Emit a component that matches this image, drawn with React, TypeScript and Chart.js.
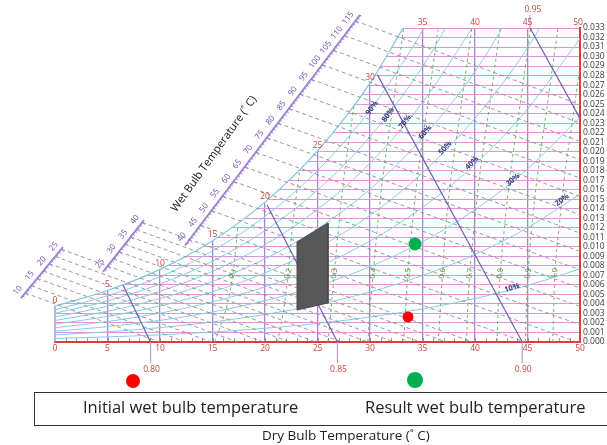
import React, { useEffect, useRef } from "react";
import { Chart, registerables } from "chart.js";

Chart.register(...registerables);

// ---------------- data ----------------
const dryBulbTemps = [0, 5, 10, 15, 20, 25, 30, 35, 40, 45, 50];
const humidityTicks = [
  0.0, 0.001, 0.002, 0.003, 0.004, 0.005, 0.006, 0.007, 0.008, 0.009, 0.01, 0.011,
  0.012, 0.013, 0.014, 0.015, 0.016, 0.017, 0.018, 0.019, 0.02, 0.021, 0.022, 0.023,
  0.024, 0.025, 0.026, 0.027, 0.028, 0.029, 0.03, 0.031, 0.032, 0.033,
];

// humidity ratio (kg/kg) along each relative-humidity curve, at dryBulbTemps
const saturationW = [0.00377, 0.00541, 0.00763, 0.01065, 0.0147, 0.02009, 0.02721, 0.03659];
const rh90W = [0.00339, 0.00486, 0.00686, 0.00957, 0.0132, 0.01802, 0.02438, 0.03274, 0.04366];
const rh80W = [0.00302, 0.00432, 0.00609, 0.00849, 0.0117, 0.01597, 0.02158, 0.02893, 0.03851];
const rh70W = [0.00264, 0.00377, 0.00532, 0.00742, 0.01022, 0.01393, 0.0188, 0.02517, 0.03344];
const rh60W = [0.00226, 0.00323, 0.00456, 0.00635, 0.00874, 0.0119, 0.01605, 0.02145, 0.02844, 0.03747];
const rh50W = [0.00188, 0.00269, 0.00379, 0.00528, 0.00726, 0.00988, 0.01332, 0.01777, 0.02352, 0.03091, 0.04037];
const rh40W = [0.0015, 0.00215, 0.00303, 0.00422, 0.0058, 0.00788, 0.01061, 0.01414, 0.01868, 0.02449, 0.03188];
const rh30W = [0.00113, 0.00161, 0.00227, 0.00316, 0.00434, 0.00589, 0.00792, 0.01054, 0.0139, 0.01819, 0.02361];
const rh20W = [0.00075, 0.00107, 0.00151, 0.0021, 0.00289, 0.00392, 0.00526, 0.00699, 0.0092, 0.01201, 0.01554];
const rh10W = [0.00038, 0.00054, 0.00075, 0.00105, 0.00144, 0.00195, 0.00262, 0.00348, 0.00457, 0.00595, 0.00768];
const rhCurves = [rh10W, rh20W, rh30W, rh40W, rh50W, rh60W, rh70W, rh80W, rh90W];

const rhLabels = ["10%", "20%", "30%", "40%", "50%", "60%", "70%", "80%", "90%"];
const rhLabelT = [43.52, 48.29, 43.62, 39.71, 37.14, 35.24, 33.33, 31.71, 30.19];
const rhLabelW = [0.00568, 0.01492, 0.01703, 0.01881, 0.02039, 0.02207, 0.02312, 0.02386, 0.02459];
const rhLabelAngle = [-17, -37, -41, -45, -48, -50, -52, -54, -55];

// enthalpy (kJ/kg) lines, grouped by the three slanted scales
const enthalpyLinesA = [10, 12.5, 15, 17.5, 20, 22.5, 25];
const enthalpyLinesB = [27.5, 30, 32.5, 35, 37.5, 40];
const enthalpyLinesC = [45, 50, 55, 60, 65, 70, 75, 80, 85, 90, 95, 100, 105, 110, 115];
const enthalpyLabelsA = [10, 15, 20, 25];
const enthalpyLabelsB = [25, 30, 35, 40];
const enthalpyLabelsC = [40, 45, 50, 55, 60, 65, 70, 75, 80, 85, 90, 95, 100, 105, 110, 115];

// green dashed curves 0.1 ... 1.0
const shrLabels = ["0.1", "0.2", "0.3", "0.4", "0.5", "0.6", "0.7", "0.8", "0.9", "1.0"];
const shrCurveW = [0, 0.0035, 0.0072, 0.012, 0.018, 0.025, 0.033];
const shrCurveT = [
  [15.2, 16.3, 16.95, 17.4],
  [21.2, 21.8, 22.2, 22.6, 23.3],
  [26.0, 26.3, 26.6, 27.0, 27.6, 28.5],
  [29.8, 30.0, 30.3, 30.7, 31.3, 32.2, 33.2],
  [33.2, 33.4, 33.6, 34.0, 34.6, 35.5, 36.5],
  [36.5, 36.7, 36.9, 37.2, 37.8, 38.7, 39.7],
  [39.2, 39.3, 39.5, 39.9, 40.5, 41.4, 42.4],
  [42.1, 42.2, 42.4, 42.8, 43.4, 44.3, 45.3],
  [44.8, 44.9, 45.05, 45.4, 46.0, 46.9, 47.9],
  [47.4, 47.5, 47.6, 48.0, 48.6, 49.5, 50.5],
];
const shrLabelAngle = [-62, -74, -82, -82, -82, -82, -82, -82, -82, -82];

// specific volume lines (m3/kg)
const volumeLabels = ["0.80", "0.85", "0.90", "0.95"];
const volumeTopT = [6.48, 20.2, 30.7, 45.24];
const volumeTopW = [0.006, 0.0144, 0.0281, 0.033];
const volumeEndT = [9.1, 26.9, 44.5, 50];
const volumeEndW = [0, 0, 0, 0.0235];

// process zone and the two states
const processZoneT = [23.05, 26.0, 26.0, 23.05, 23.05];
const processZoneW = [0.01051, 0.01251, 0.0041, 0.00336, 0.01051];
const initialState = { x: 33.62, y: 0.00263 };
const resultState = { x: 34.29, y: 0.0103 };

// ---------------- geometry helpers ----------------
const rulers = [
  { from: { x: -3.24, y: 0.00462 }, to: { x: 0.76, y: 0.00998 }, lines: enthalpyLinesA, labels: enthalpyLabelsA },
  { from: { x: 4.57, y: 0.00736 }, to: { x: 8.48, y: 0.01282 }, lines: enthalpyLinesB, labels: enthalpyLabelsB },
  { from: { x: 12.38, y: 0.01014 }, to: { x: 29.05, y: 0.03437 }, lines: enthalpyLinesC, labels: enthalpyLabelsC },
];
const hAt = (t: number, w: number) => 1.006 * t + w * (2501 + 1.86 * t);
const onRuler = (r: any, h: number) => {
  const h0 = hAt(r.from.x, r.from.y);
  const h1 = hAt(r.to.x, r.to.y);
  const s = (h - h0) / (h1 - h0);
  return { x: r.from.x + s * (r.to.x - r.from.x), y: r.from.y + s * (r.to.y - r.from.y) };
};
const enthalpyEnd = (h: number) => {
  const t = h / 1.006;
  if (t <= 50) return { x: t, y: 0 };
  return { x: 50, y: (h - 50.3) / (2501 + 93) };
};
const xy = (xs: number[], ys: number[]) => ys.map((y, i) => ({ x: xs[i], y }));

const FONT = "'Open Sans', 'DejaVu Sans', sans-serif";
const GRID_PURPLE = "#a687cf";

const overlayPlugin = {
  id: "psychroOverlay",
  afterDatasetsDraw(chart: any) {
    const ctx: CanvasRenderingContext2D = chart.ctx;
    const sx = chart.scales.x;
    const sy = chart.scales.y;
    const px = (v: number) => sx.getPixelForValue(v);
    const py = (v: number) => sy.getPixelForValue(v);
    const text = (s: string, x: number, y: number, deg: number, size: number, color: string, baseline: CanvasTextBaseline = "middle", weight = "normal") => {
      ctx.save();
      ctx.translate(x, y);
      ctx.rotate((deg * Math.PI) / 180);
      ctx.font = `${weight} ${size}px ${FONT}`;
      ctx.fillStyle = color;
      ctx.textAlign = "center";
      ctx.textBaseline = baseline;
      ctx.fillText(s, 0, 0);
      ctx.restore();
    };
    ctx.save();
    // minor ticks along dry-bulb axis
    ctx.strokeStyle = "rgba(110,100,150,0.85)";
    ctx.lineWidth = 0.8;
    for (let t = 1; t < 50; t += 1) {
      const x = Math.round(px(t)) + 0.5;
      ctx.beginPath();
      ctx.moveTo(x, py(0));
      ctx.lineTo(x, py(0) - 4);
      ctx.stroke();
    }
    // direction of enthalpy lines in pixels
    const hdx = px(1) - px(0);
    const hdy = py(-1.006 / 2501) - py(0);
    const hl = Math.hypot(hdx, hdy);
    const hux = hdx / hl, huy = hdy / hl;
    rulers.forEach((r) => {
      const p0x = px(r.from.x), p0y = py(r.from.y);
      const p1x = px(r.to.x), p1y = py(r.to.y);
      const L = Math.hypot(p1x - p0x, p1y - p0y);
      const dx = (p1x - p0x) / L, dy = (p1y - p0y) / L;
      const ang = (Math.atan2(dy, dx) * 180) / Math.PI;
      const h0 = hAt(r.from.x, r.from.y);
      const h1 = hAt(r.to.x, r.to.y);
      ctx.strokeStyle = "rgba(140,110,200,0.9)";
      ctx.lineWidth = 0.8;
      for (let h = Math.ceil(h0); h <= Math.floor(h1); h++) {
        const p = onRuler(r, h);
        const x = px(p.x), y = py(p.y);
        const len = h % 5 === 0 ? 4 : 2.5;
        ctx.beginPath();
        ctx.moveTo(x, y);
        ctx.lineTo(x - dy * len, y + dx * len);
        ctx.stroke();
      }
      r.labels.forEach((h: number) => {
        const p = onRuler(r, h);
        const x = px(p.x) - hux * 8;
        const y = py(p.y) - huy * 8;
        text(String(h), x, y, ang, 8, "#6c45ad");
      });
    });
    // axis title along the wet-bulb scale
    text("Wet Bulb Temperature (˚ C)", px(15.14), py(0.01976), -54.5, 11, "#111");
    // red labels on top of dry-bulb lines
    dryBulbTemps.forEach((t, i) => {
      const top = i < saturationW.length ? Math.min(saturationW[i], 0.033) : 0.033;
      text(String(t), px(t) - (t === 50 ? 2 : 0), py(top) - 1.5, 0, 8.5, "#c9463d", "bottom");
    });
    // specific volume labels
    volumeLabels.forEach((s, i) => {
      if (volumeEndW[i] === 0) text(s, px(volumeEndT[i]) + 1, py(-0.0029), 0, 8.5, "#c9463d");
      else text(s, px(volumeTopT[i]) + 3, py(0.0349), 0, 8.5, "#c9463d");
    });
    // relative humidity labels
    rhLabels.forEach((s, i) => text(s, px(rhLabelT[i]), py(rhLabelW[i]), rhLabelAngle[i], 7.5, "#34347c", "middle", "bold"));
    // green curve labels
    shrLabels.forEach((s, i) => text(s, px(shrCurveT[i][2]), py(shrCurveW[2]), shrLabelAngle[i], 7.5, "#2f962f"));
    ctx.restore();
  },
};

export default function App() {
  const ref = useRef<HTMLCanvasElement>(null);
  useEffect(() => {
    const canvas = ref.current;
    if (!canvas) return;
    Chart.defaults.font.family = FONT;
    const datasets: any[] = [];
    const line = (data: any[], color: string, width: number, order: number, extra: any = {}) => ({
      data, showLine: true, pointRadius: 0, borderColor: color, borderWidth: width, fill: false, order, ...extra,
    });
    // states
    datasets.push({ data: [initialState], pointRadius: 5.5, backgroundColor: "#ff0000", borderWidth: 0, order: 0 });
    datasets.push({ data: [resultState], pointRadius: 6.5, backgroundColor: "#00b050", borderWidth: 0, order: 0 });
    // process zone
    datasets.push(line(xy(processZoneT, processZoneW), "#4a4a4a", 1, 1, { fill: "shape", backgroundColor: "#575757" }));
    // specific volume lines and their ticks
    volumeLabels.forEach((_, i) => {
      datasets.push(line([{ x: volumeTopT[i], y: volumeTopW[i] }, { x: volumeEndT[i], y: volumeEndW[i] }], "#6762b3", 1.2, 2, { clip: false }));
      const tick = volumeEndW[i] === 0
        ? [{ x: volumeEndT[i], y: 0 }, { x: volumeEndT[i], y: -0.0022 }]
        : [{ x: volumeTopT[i], y: volumeTopW[i] }, { x: volumeTopT[i], y: 0.03437 }];
      datasets.push(line(tick, "#b89ddc", 1.2, 2, { clip: false }));
    });
    // slanted enthalpy scales
    rulers.forEach((r) => {
      datasets.push(line([r.from, r.to], "rgba(150,120,210,0.9)", 2, 3, { clip: false }));
      r.lines.forEach((h: number) => {
        datasets.push(line([onRuler(r, h), enthalpyEnd(h)], "#8e8e8e", 0.9, 4, { clip: false, borderDash: [4, 3] }));
      });
    });
    // green dashed curves
    shrCurveT.forEach((ts) => {
      datasets.push(line(xy(ts, shrCurveW.slice(0, ts.length)), "#6db56d", 1, 5, { borderDash: [3, 3], tension: 0.3 }));
    });
    // relative humidity curves
    rhCurves.forEach((ws) => {
      datasets.push(line(xy(dryBulbTemps, ws), "#86cde3", 1, 6, { cubicInterpolationMode: "monotone" }));
    });
    // dry-bulb 0 edge, stops at the saturation curve
    datasets.push(line([{ x: 0, y: 0 }, { x: 0, y: saturationW[0] }], GRID_PURPLE, 1.3, 7, { clip: false }));
    // saturation curve with white mask above it
    datasets.push(line(xy(dryBulbTemps, saturationW), "#7cc8df", 1.2, 10, {
      cubicInterpolationMode: "monotone", fill: "end", backgroundColor: "#ffffff",
    }));

    const chart = new Chart(canvas, {
      type: "scatter",
      data: { datasets },
      options: {
        animation: false,
        responsive: false,
        devicePixelRatio: 1,
        events: [],
        layout: { padding: { left: 55, top: 28, right: 0, bottom: 0 } },
        plugins: { legend: { display: false }, tooltip: { enabled: false } },
        scales: {
          x: {
            type: "linear", position: "bottom", min: 0, max: 50,
            afterFit: (s: any) => { s.height = 103; },
            afterBuildTicks: (s: any) => { s.ticks = dryBulbTemps.map((v) => ({ value: v })); },
            grid: {
              color: (c: any) => (c.tick && c.tick.value === 0 ? "rgba(0,0,0,0)" : GRID_PURPLE),
              lineWidth: 1.3, drawTicks: false,
            },
            border: { color: "#e23a3a", width: 2 },
            ticks: { color: "#c9463d", font: { size: 8.5 }, padding: 1, autoSkip: false, maxRotation: 0, callback: (v: any) => String(v) },
          },
          y: {
            type: "linear", position: "right", min: 0, max: 0.033,
            afterFit: (s: any) => { s.width = 27; },
            afterBuildTicks: (s: any) => { s.ticks = humidityTicks.map((v) => ({ value: v })); },
            grid: { color: "#e690e0", lineWidth: 1, drawTicks: false },
            border: { color: "#e23a3a", width: 2 },
            ticks: { color: "#3a3a3a", font: { size: 8.5 }, padding: 3, autoSkip: false, callback: (v: any) => Number(v).toFixed(3) },
          },
        },
      } as any,
      plugins: [overlayPlugin],
    });
    return () => chart.destroy();
  }, []);

  const textStyle: React.CSSProperties = { position: "absolute", fontFamily: FONT, color: "#222", whiteSpace: "nowrap" };
  return (
    <div style={{ position: "absolute", left: 0, top: 0, width: 607, height: 445, overflow: "hidden", background: "#fff" }}>
      <canvas ref={ref} width={607} height={445} style={{ position: "absolute", left: 0, top: 0, width: 607, height: 445 }} />
      <div style={{ position: "absolute", left: 126, top: 374, width: 14, height: 14, borderRadius: "50%", background: "#ff0000" }} />
      <div style={{ position: "absolute", left: 407, top: 372, width: 16, height: 16, borderRadius: "50%", background: "#00b050" }} />
      <div style={{ position: "absolute", left: 34, top: 392, width: 620, height: 34, border: "1px solid #333", boxSizing: "border-box" }}>
        <span style={{ ...textStyle, left: 48, top: 3, fontSize: 16.5, lineHeight: "22px" }}>Initial wet bulb temperature</span>
        <span style={{ ...textStyle, left: 330, top: 3, fontSize: 16.5, lineHeight: "22px" }}>Result wet bulb temperature</span>
      </div>
      <span style={{ ...textStyle, left: 262, top: 427, fontSize: 13.5, lineHeight: "17px" }}>Dry Bulb Temperature (˚ C)</span>
    </div>
  );
}
